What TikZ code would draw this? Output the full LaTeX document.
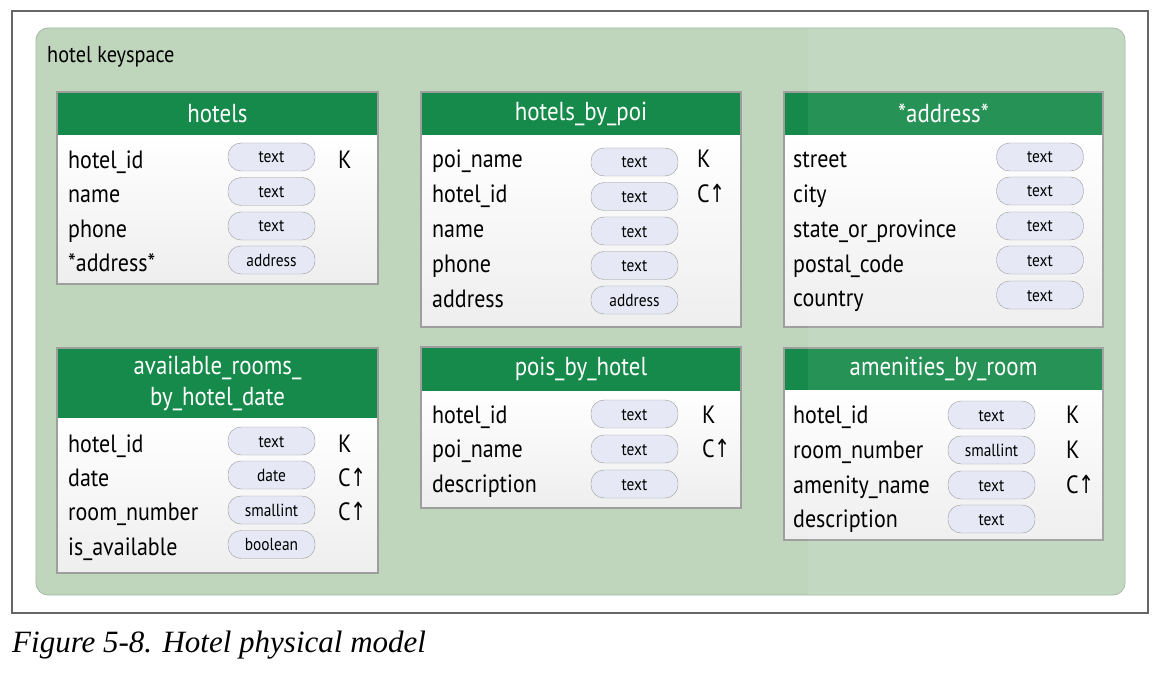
\documentclass[tikz,border=0pt]{standalone}
\usepackage{fontspec}
\setmainfont{PT Sans}[FakeStretch=0.88]
\newfontfamily\capfont{Liberation Serif}
\newfontfamily\arrowfont{DejaVu Sans}[FakeStretch=0.75]
\definecolor{bgc}{HTML}{BFD6BC}
\definecolor{bgedge}{HTML}{A3BBA0}
\definecolor{hdrc}{HTML}{168A4A}
\definecolor{pillc}{HTML}{E6E9F5}
\definecolor{bodybot}{HTML}{EEEEEE}
\definecolor{framec}{HTML}{666666}
\tikzset{
  fld/.style={anchor=base west,inner sep=0pt,font=\fontsize{25}{28}\selectfont},
  keyt/.style={anchor=base west,inner sep=0pt,font=\fontsize{25}{28}\selectfont},
  pill/.style={draw=black!40,fill=pillc,rounded corners=13pt,minimum width=87pt,minimum height=28pt,
    inner sep=0pt,text height=12pt,text depth=0pt,font=\fontsize{17.5}{18}\selectfont},
  hdrtext/.style={text=white,align=center,inner sep=0pt,font=\fontsize{26}{31}\selectfont},
  tblborder/.style={draw=black!38,line width=1.2pt},
}
% #1 prefix, #2 pill y centre, #3 text baseline y, #4 field x, #5 pill centre x, #6 field, #7 type
\newcommand\frow[7]{%
  \node[fld] (#1f) at (#4,#3) {#6};
  \node[pill] (#1p) at (#5,#2) {#7};
}
% #1 x1, #2 y1, #3 x2, #4 header bottom, #5 y2
\newcommand\tablebox[5]{%
  \shade[top color=white,bottom color=bodybot] (#1,#4) rectangle (#3,#5);
  \fill[hdrc] (#1,#2) rectangle (#3,#4);
  \draw[tblborder] (#1,#2) rectangle (#3,#5);
}
\newcommand\Cup{C\kern-0.5pt{\arrowfont↑}}
\begin{document}
\begin{tikzpicture}[x=1pt,y=-1pt]
\useasboundingbox (0,0) rectangle (1166,676);
\fill[white] (0,0) rectangle (1166,676);
\draw[framec,line width=1.2pt] (12,11) rectangle (1148,613);
\fill[bgc,draw=bgedge,line width=0.8pt,rounded corners=12pt] (36,28) rectangle (1125,595);
\node[anchor=base west,inner sep=0pt,font=\fontsize{23}{26}\selectfont] (ks) at (47,63) {hotel keyspace};

\tablebox{57}{92}{378}{135}{284}
\tablebox{421}{92}{741}{135}{327}
\tablebox{784}{92}{1103}{135}{327}
\tablebox{57}{348}{378}{418}{573}
\tablebox{421}{347}{741}{391}{508}
\tablebox{784}{348}{1103}{390}{540}

\begin{scope}
\clip[rounded corners=12pt] (36,28) rectangle (1125,595);
\fill[white,opacity=0.07] (808,28) rectangle (1125,595);
\end{scope}

\node[hdrtext] (h1) at (217.5,113.5) {hotels};
\node[hdrtext] (h2) at (581,113.5) {hotels\_by\_poi};
\node[hdrtext] (h3) at (943.5,113.5) {*address*};
\node[hdrtext] (h4) at (217.5,383) {available\_rooms\_\\by\_hotel\_date};
\node[hdrtext] (h5) at (581,369) {pois\_by\_hotel};
\node[hdrtext] (h6) at (943.5,369) {amenities\_by\_room};

% hotels
\frow{a1}{157}{169}{68}{271.5}{hotel\_id}{text}
\frow{a2}{191.5}{203}{68}{271.5}{name}{text}
\frow{a3}{226}{237}{68}{271.5}{phone}{text}
\frow{a4}{260}{271}{68}{271.5}{*address*}{address}
\node[keyt] (a1k) at (338,169) {K};

% hotels_by_poi
\frow{b1}{162}{168}{432}{634.5}{poi\_name}{text}
\frow{b2}{196.5}{203}{432}{634.5}{hotel\_id}{text}
\frow{b3}{231}{237.5}{432}{634.5}{name}{text}
\frow{b4}{265.5}{272}{432}{634.5}{phone}{text}
\frow{b5}{300}{307}{432}{634.5}{address}{address}
\node[keyt] (b1k) at (697,168) {K};
\node[keyt] (b2k) at (697,203) {\Cup};

% address
\frow{c1}{157}{168}{793}{1040}{street}{text}
\frow{c2}{191}{203}{793}{1040}{city}{text}
\frow{c3}{226}{237}{793}{1040}{state\_or\_province}{text}
\frow{c4}{260}{272}{793}{1040}{postal\_code}{text}
\frow{c5}{295}{306}{793}{1040}{country}{text}

% available_rooms_by_hotel_date
\frow{d1}{441}{452.5}{68}{271.5}{hotel\_id}{text}
\frow{d2}{475}{486.5}{68}{271.5}{date}{date}
\frow{d3}{510}{520.5}{68}{271.5}{room\_number}{smallint}
\frow{d4}{544.5}{555}{68}{271.5}{is\_available}{boolean}
\node[keyt] (d1k) at (338,452.5) {K};
\node[keyt] (d2k) at (338,486.5) {\Cup};
\node[keyt] (d3k) at (338,520.5) {\Cup};

% pois_by_hotel
\frow{e1}{414}{423}{432}{634.5}{hotel\_id}{text}
\frow{e2}{449}{457.5}{432}{634.5}{poi\_name}{text}
\frow{e3}{484}{492}{432}{634.5}{description}{text}
\node[keyt] (e1k) at (702,423) {K};
\node[keyt] (e2k) at (702,457.5) {\Cup};

% amenities_by_room
\frow{f1}{415}{423}{793}{991.5}{hotel\_id}{text}
\frow{f2}{450}{458}{793}{991.5}{room\_number}{smallint}
\frow{f3}{485}{493}{793}{991.5}{amenity\_name}{text}
\frow{f4}{519}{527}{793}{991.5}{description}{text}
\node[keyt] (f1k) at (1066,423) {K};
\node[keyt] (f2k) at (1066,458) {K};
\node[keyt] (f3k) at (1066,493) {\Cup};

\node[anchor=base west,inner sep=0pt,font=\capfont\itshape\fontsize{31}{33}\selectfont] (cap) at (12,652) {Figure 5-8. Hotel physical model};
\end{tikzpicture}
\end{document}
